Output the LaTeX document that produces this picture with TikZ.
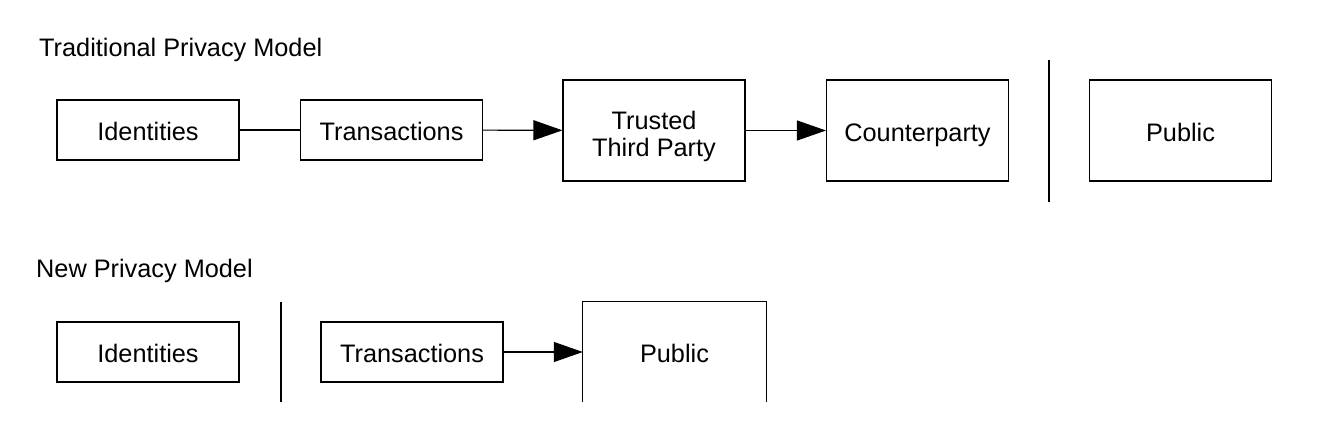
\documentclass[tikz,border=0pt]{standalone}
\usepackage{fontspec}
\setmainfont{Liberation Sans}
\usetikzlibrary{arrows.meta}
\begin{document}
\begin{tikzpicture}[x=1pt,y=-1pt,
  every node/.style={font=\fontsize{25.3}{25.7}\selectfont},
  box/.style={draw,line width=1.1pt,inner sep=0pt,minimum width=182pt,minimum height=60pt,align=center,text height=21.4pt,text depth=0pt},
  tallbox/.style={box,minimum height=101pt},
  ttpbox/.style={draw,line width=1.1pt,inner sep=0pt,minimum width=182pt,minimum height=101pt,align=center},
  ln/.style={line width=1.1pt},
  arr/.style={ln,-{Triangle[length=29pt,width=20pt]}},
  title/.style={anchor=base west,inner sep=0pt}]
\useasboundingbox (0,0) rectangle (1320,438);
% top row
\node[title] (t1) at (39,56.7) {Traditional Privacy Model};
\node[box] (id1) at (148,130) {Identities};
\node[box] (tr1) at (391.5,130) {Transactions};
\node[ttpbox] (ttp) at (654,130.5) {};
\node[inner sep=0pt,align=center,yshift=-6pt,font=\fontsize{25.3}{27.3}\selectfont] (ttpt) at (ttp.center) {Trusted\\Third Party};
\node[tallbox] (cp) at (917.5,130.5) {Counterparty};
\node[tallbox] (pub1) at (1180.5,130.5) {Public};
\coordinate (v1a) at (1049,60);
\coordinate (v1b) at (1049,202);
\draw[ln] (id1) -- (tr1);
\draw[arr] (tr1) -- (ttp);
\draw[arr] (ttp) -- (cp);
\draw[ln] (v1a) -- (v1b);
% bottom row
\node[title] (t2) at (36,278) {New Privacy Model};
\node[box] (id2) at (148,352) {Identities};
\node[box] (tr2) at (412,352) {Transactions};
\node[inner sep=0pt,minimum width=183pt,minimum height=100pt,text height=21.4pt,text depth=0pt] (pub2) at (674.5,352) {Public};
\draw[ln] (pub2.south west) -- (pub2.north west) -- (pub2.north east) -- (pub2.south east);
\coordinate (v2a) at (281,302);
\coordinate (v2b) at (281,402);
\draw[ln] (v2a) -- (v2b);
\draw[arr] (tr2) -- (pub2);
\end{tikzpicture}
\end{document}
